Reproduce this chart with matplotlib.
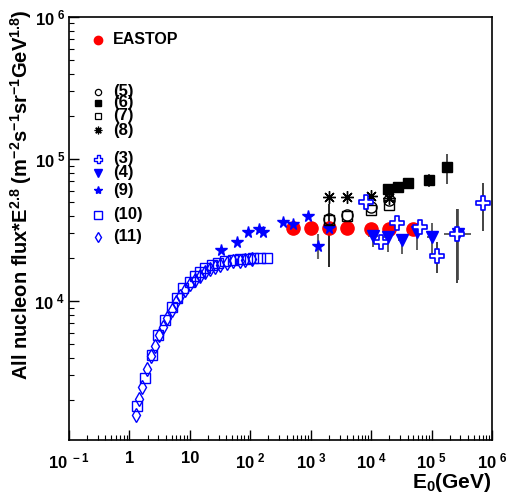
import numpy as np
import matplotlib
matplotlib.use("Agg")
import matplotlib.pyplot as plt
from matplotlib.path import Path

plt.rcParams['font.family'] = ['Liberation Sans', 'DejaVu Sans']
plt.rcParams['font.weight'] = 'bold'
plt.rcParams['mathtext.fontset'] = 'custom'
plt.rcParams['mathtext.rm'] = 'Liberation Sans:bold'
plt.rcParams['mathtext.bf'] = 'Liberation Sans:bold'
plt.rcParams['mathtext.it'] = 'Liberation Sans:bold'

# ---------------- data ----------------
eastop_E = [500, 1000, 2000, 4000, 10000, 20000, 50000]
eastop_F = [3.25e4, 3.25e4, 3.25e4, 3.25e4, 3.2e4, 3.2e4, 3.2e4]

s5_E = [2000, 4000, 10000, 20000]            # open circles
s5_F = [3.8e4, 4.06e4, 4.6e4, 5.13e4]
s5_lo = [1.73e4, 4.06e4, 4.6e4, 5.13e4]
s5_hi = [4.84e4, 4.06e4, 4.6e4, 5.13e4]

s6_E = [1.9e4, 2.78e4, 4.07e4, 9.06e4, 1.8e5]  # filled squares
s6_F = [6.16e4, 6.3e4, 6.77e4, 7.07e4, 8.8e4]
s6_lo = [6.16e4, 6.3e4, 6.77e4, 6.37e4, 6.7e4]
s6_hi = [6.16e4, 6.3e4, 6.77e4, 7.85e4, 1.08e5]

s7_E = [2000, 4000, 10000, 20000]            # open squares
s7_F = [3.74e4, 4.0e4, 4.4e4, 4.71e4]

s8_E = [2000, 4000, 10000, 20000]            # asterisks
s8_F = [5.4e4, 5.4e4, 5.5e4, 5.3e4]

s3_E = [8.2e3, 1.47e4, 2.65e4, 6.43e4, 1.22e5, 2.6e5, 6.97e5]   # open crosses
s3_F = [4.98e4, 2.62e4, 3.53e4, 3.34e4, 2.09e4, 2.94e4, 4.92e4]
s3_lo = [4.98e4, 2.62e4, 3.53e4, 3.34e4, 1.57e4, 1.34e4, 3.1e4]
s3_hi = [4.98e4, 2.62e4, 3.53e4, 3.34e4, 2.59e4, 4.42e4, 6.8e4]

s4_E = [1.09e4, 1.88e4, 3.24e4, 5.67e4, 1.02e5, 2.69e5]         # down triangles
s4_F = [2.88e4, 2.83e4, 2.68e4, 3.07e4, 2.83e4, 2.97e4]
s4_lo = [2.39e4, 2.20e4, 2.13e4, 2.29e4, 2.13e4, 1.41e4]
s4_hi = [3.24e4, 3.16e4, 2.95e4, 3.51e4, 3.56e4, 4.47e4]
s4_xlo = [9.0e3, 1.6e4, 2.8e4, 4.9e4, 8.5e4, 1.6e5]
s4_xhi = [1.3e4, 2.2e4, 3.7e4, 6.5e4, 1.2e5, 4.5e5]

s9_E = [32.7, 60, 91.6, 139, 162, 352, 509, 891, 1306, 2030]     # stars
s9_F = [2.28e4, 2.6e4, 3.07e4, 3.23e4, 3.04e4, 3.62e4, 3.5e4, 3.97e4, 2.44e4, 3.29e4]
s9_lo = [2.28e4, 2.6e4, 3.07e4, 3.23e4, 3.04e4, 3.62e4, 3.5e4, 3.97e4, 1.97e4, 3.29e4]
s9_hi = [2.28e4, 2.6e4, 3.07e4, 3.23e4, 3.04e4, 3.62e4, 3.5e4, 3.97e4, 2.94e4, 3.29e4]

s10_E = [1.32, 1.81, 2.34, 3.01, 3.88, 5.01, 6.06, 7.79, 10.05, 12.2, 14.7,
         17.8, 23, 29.6, 38.1, 52.4, 67.6, 87.3, 112, 145, 187]          # open squares (10)
s10_F = [1836, 2863, 4145, 5755, 7400, 9080, 1.05e4, 1.23e4, 1.37e4, 1.49e4, 1.61e4,
         1.70e4, 1.80e4, 1.84e4, 1.91e4, 1.95e4, 1.98e4, 1.98e4, 2.0e4, 2.02e4, 2.02e4]

s11_E = [1.28, 1.46, 1.60, 1.98, 2.28, 2.65, 3.12, 3.63, 4.23, 5.01, 5.90, 6.87,
         8.31, 10.05, 12.2, 14.7, 17.8, 21.5, 26.1, 31.5, 40.7, 52.4, 67.6, 81.7, 105]  # diamonds (11)
s11_F = [1563, 2041, 2464, 3311, 4106, 4822, 5754, 6548, 7606, 8690, 9840, 1.08e4,
         1.20e4, 1.31e4, 1.41e4, 1.51e4, 1.61e4, 1.68e4, 1.73e4, 1.80e4, 1.84e4, 1.90e4,
         1.91e4, 1.95e4, 1.98e4]

legend_labels = ['(5)', '(6)', '(7)', '(8)', '(3)', '(4)', '(9)', '(10)', '(11)']

x_ticks = [0.1, 1, 10, 100, 1e3, 1e4, 1e5, 1e6]
x_ticklabels = [r'$10^{\ -1}$', '1', '10', r'$10^{\ 2}$', r'$10^{\ 3}$', r'$10^{\ 4}$', r'$10^{\ 5}$', r'$10^{\ 6}$']
y_ticks = [1e4, 1e5, 1e6]
y_ticklabels = [r'$10^{\ 4}$', r'$10^{\ 5}$', r'$10^{\ 6}$']

# ---------------- figure ----------------
fig = plt.figure(figsize=(5.19, 4.99), dpi=100)
ax = fig.add_axes([69/519, 1 - 440/499, 423/519, 423/499])
ax.set_xscale('log')
ax.set_yscale('log')
ax.set_xlim(0.1, 1e6)
ax.set_ylim(1050, 1e6)

BLUE = '#0000ff'
RED = '#ff0000'

w = 0.36
cross_verts = [(-w, 1), (w, 1), (w, w), (1, w), (1, -w), (w, -w), (w, -1), (-w, -1),
               (-w, -w), (-1, -w), (-1, w), (-w, w), (-w, 1)]
open_cross = Path(cross_verts, closed=True)
asterisk = (8, 2, 0)

def yerr(F, lo, hi):
    F = np.array(F); lo = np.array(lo); hi = np.array(hi)
    return np.vstack([F - lo, hi - F])

# error bars
ax.errorbar(s5_E, s5_F, yerr=yerr(s5_F, s5_lo, s5_hi), fmt='none', ecolor='black', elinewidth=1.2, zorder=2)
ax.errorbar(s6_E, s6_F, yerr=yerr(s6_F, s6_lo, s6_hi), fmt='none', ecolor='#333333', elinewidth=1.2, zorder=2)
ax.errorbar(s3_E, s3_F, yerr=yerr(s3_F, s3_lo, s3_hi), fmt='none', ecolor='#222222', elinewidth=1.2, zorder=2)
s4_xerr = np.vstack([np.array(s4_E) - np.array(s4_xlo), np.array(s4_xhi) - np.array(s4_E)])
ax.errorbar(s4_E, s4_F, yerr=yerr(s4_F, s4_lo, s4_hi), xerr=s4_xerr, fmt='none', ecolor='#444444',
            elinewidth=1.2, zorder=2)
ax.errorbar(s9_E, s9_F, yerr=yerr(s9_F, s9_lo, s9_hi), fmt='none', ecolor='#666666', elinewidth=1.5, zorder=2)

# markers
ax.plot(s10_E, s10_F, ls='none', marker='s', ms=7.5, mfc='none', mec=BLUE, mew=1.0, zorder=3)
ax.plot(s11_E, s11_F, ls='none', marker='d', ms=7, mfc='none', mec=BLUE, mew=1.0, zorder=3)
ax.plot(s9_E, s9_F, ls='none', marker='*', ms=8.5, color=BLUE, zorder=4)
ax.plot(eastop_E, eastop_F, ls='none', marker='o', ms=9.5, color=RED, mec=RED, zorder=3)
ax.plot(s5_E, s5_F, ls='none', marker='o', ms=8, mfc='none', mec='black', mew=1.0, zorder=4)
ax.plot(s7_E, s7_F, ls='none', marker='s', ms=7.5, mfc='none', mec='black', mew=1.0, zorder=4)
ax.plot(s8_E, s8_F, ls='none', marker=asterisk, ms=9, color='black', mew=1.0, zorder=4)
ax.plot(s6_E, s6_F, ls='none', marker='s', ms=7.5, color='black', zorder=4)
ax.plot(s4_E, s4_F, ls='none', marker='v', ms=8.5, color=BLUE, zorder=5)
ax.plot(s3_E, s3_F, ls='none', marker=open_cross, ms=9.5, mfc='white', mec=BLUE, mew=1.2, zorder=5)

# manual legend (axes-fraction coordinates)
def axfrac(px, py):
    return ((px - 69) / 423, (440 - py) / 423)

lx, tx = 98, 113
ax.plot(*axfrac(lx, 40), transform=ax.transAxes, marker='o', ms=6, color=RED, ls='none', clip_on=False)
ax.text(*axfrac(tx, 40), 'EASTOP', transform=ax.transAxes, fontsize=11.5, fontweight='bold', va='center', ha='left')

leg_y = [91.7, 102.7, 115.7, 130, 159, 172.7, 190, 215, 236.7]
leg_style = [
    dict(marker='o', ms=4.5, mfc='none', mec='black', mew=0.9),
    dict(marker='s', ms=4.5, color='black'),
    dict(marker='s', ms=4.5, mfc='none', mec='black', mew=0.9),
    dict(marker=asterisk, ms=5.5, color='black', mew=0.9),
    dict(marker=open_cross, ms=6, mfc='white', mec=BLUE, mew=1.0),
    dict(marker='v', ms=6, color=BLUE),
    dict(marker='*', ms=6, color=BLUE),
    dict(marker='s', ms=6, mfc='none', mec=BLUE, mew=1.0),
    dict(marker='d', ms=5.5, mfc='none', mec=BLUE, mew=1.0),
]
for y, lab, st in zip(leg_y, legend_labels, leg_style):
    ax.plot(*axfrac(lx, y), transform=ax.transAxes, ls='none', clip_on=False, **st)
    ax.text(*axfrac(tx, y), lab, transform=ax.transAxes, fontsize=12, fontweight='bold',
            va='center', ha='left')

# axes styling
for sp in ['top', 'right', 'bottom', 'left']:
    ax.spines[sp].set_linewidth(1.2)
ax.set_xticks(x_ticks)
ax.set_xticklabels(x_ticklabels)
ax.set_yticks(y_ticks)
ax.set_yticklabels(y_ticklabels)
ax.tick_params(axis='both', which='major', direction='in', length=7, width=1.0,
               labelsize=12, top=False, right=False)
ax.tick_params(axis='both', which='minor', direction='in', length=3.5, width=0.8,
               top=False, right=False)
ax.tick_params(axis='x', which='major', pad=8)
ax.tick_params(axis='y', which='major', pad=3)
ax.xaxis.set_minor_locator(matplotlib.ticker.LogLocator(base=10, subs=np.arange(2, 10), numticks=20))
ax.yaxis.set_minor_locator(matplotlib.ticker.LogLocator(base=10, subs=np.arange(2, 10), numticks=20))
ax.xaxis.set_minor_formatter(matplotlib.ticker.NullFormatter())
ax.yaxis.set_minor_formatter(matplotlib.ticker.NullFormatter())

fig.text(492/519, 1 - 482/499, r'E$_{0}$(GeV)', fontsize=15, fontweight='bold', ha='right', va='center')
fig.text(21/519, 1 - 9/499,
         r'All nucleon flux*E$^{2.8}$ (m$^{-2}$s$^{-1}$sr$^{-1}$GeV$^{1.8}$)',
         rotation=90, fontsize=14.5, fontweight='bold', ha='center', va='top')

fig.savefig('out.png', dpi=100)
